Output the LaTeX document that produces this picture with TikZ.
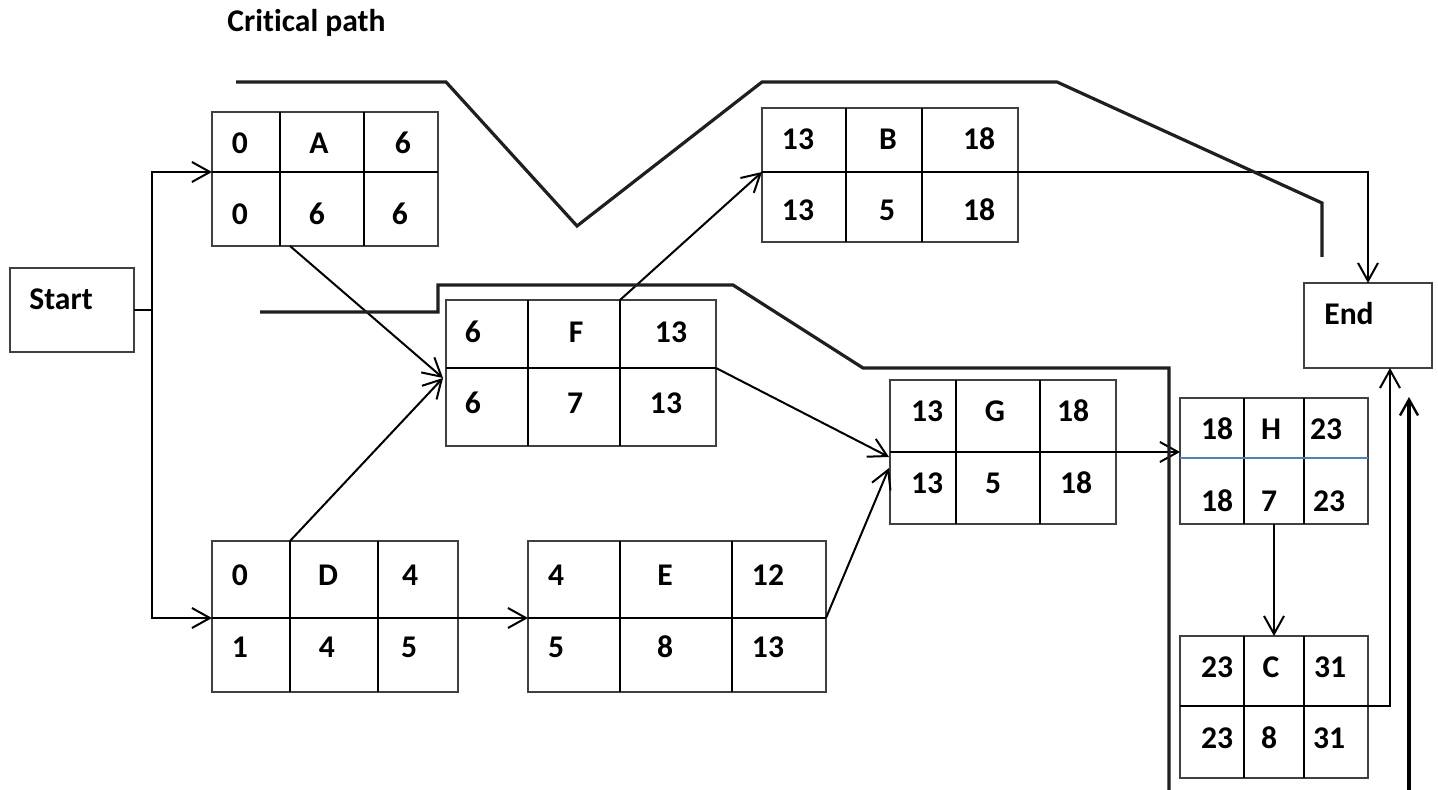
\documentclass[tikz,border=0pt]{standalone}
\usepackage{fontspec}
\setmainfont[Ligatures=NoCommon]{Carlito}
\usetikzlibrary{arrows.meta}

% activity box: name, x1, y1, x2, y2, first divider x, second divider x
\newcommand\actbox[7]{%
  \node[frame, minimum width={(#4-#2)*0.5pt}, minimum height={(#5-#3)*0.5pt}]
    (#1) at ({(#2+#4)/2},{(#3+#5)/2}) {};
  \draw[div] (#6,#3) -- (#6,#5) (#7,#3) -- (#7,#5);}

\begin{document}
\begin{tikzpicture}[x=0.5pt,y=-0.5pt,
  frame/.style={draw=black!75, line width=0.8pt, inner sep=0pt, outer sep=0pt},
  div/.style={draw=black, line width=0.85pt},
  lbl/.style={font=\bfseries\fontsize{15.8}{18}\selectfont, inner sep=0pt},
  link/.style={line width=1pt},
  conn/.style={line width=1pt, -{Straight Barb[length=9pt,width=10pt,line width=1pt]}},
  crit/.style={line width=1.6pt, draw=black!88, line join=miter},
  critarrow/.style={line width=1.6pt, -{Straight Barb[length=8pt,width=9pt,line width=1.2pt]}}]
\useasboundingbox (0,0) rectangle (1438,790);

\node[lbl, anchor=base west] (title) at (227,32) {Critical path};

% start and end events
\node[frame, minimum width=62pt, minimum height=42pt] (Start) at (72,310) {};
\node[lbl] (StartT) at (61,299) {Start};
\node[frame, minimum width=64pt, minimum height=42.5pt] (End) at (1368,325.5) {};
\node[lbl] (EndT) at (1349,314) {End};

% activity boxes
\actbox{A}{212}{112}{438}{246}{280}{364}
\draw[div] (212,172) -- (438,172);
\node[lbl] (A1) at (240,143) {0};
\node[lbl] (A2) at (319,143) {A};
\node[lbl] (A3) at (403,143) {6};
\node[lbl] (A4) at (240,214) {0};
\node[lbl] (A5) at (317,214) {6};
\node[lbl] (A6) at (400,214) {6};

\actbox{B}{762}{108}{1018}{242}{846}{922}
\draw[div] (762,172) -- (1018,172);
\node[lbl] (B1) at (798,139) {13};
\node[lbl] (B2) at (888,139) {B};
\node[lbl] (B3) at (979,139) {18};
\node[lbl] (B4) at (798,210) {13};
\node[lbl] (B5) at (887,210) {5};
\node[lbl] (B6) at (979,210) {18};

\actbox{F}{446}{300}{716}{446}{528}{620}
\draw[div] (446,368) -- (716,368);
\node[lbl] (F1) at (473,332) {6};
\node[lbl] (F2) at (576,332) {F};
\node[lbl] (F3) at (671,332) {13};
\node[lbl] (F4) at (473,403) {6};
\node[lbl] (F5) at (575,403) {7};
\node[lbl] (F6) at (666,403) {13};

\actbox{D}{212}{541}{458}{692}{290}{378}
\draw[div] (212,618) -- (458,618);
\node[lbl] (D1) at (240,575) {0};
\node[lbl] (D2) at (328,575) {D};
\node[lbl] (D3) at (410,575) {4};
\node[lbl] (D4) at (240,647) {1};
\node[lbl] (D5) at (327,647) {4};
\node[lbl] (D6) at (409,647) {5};

\actbox{E}{528}{541}{826}{692}{620}{732}
\draw[div] (528,618) -- (826,618);
\node[lbl] (E1) at (556,575) {4};
\node[lbl] (E2) at (665,575) {E};
\node[lbl] (E3) at (768,575) {12};
\node[lbl] (E4) at (556,647) {5};
\node[lbl] (E5) at (665,647) {8};
\node[lbl] (E6) at (768,647) {13};

\actbox{G}{890}{380}{1116}{524}{956}{1040}
\draw[div] (890,452) -- (1116,452);
\node[lbl] (G1) at (927,411) {13};
\node[lbl] (G2) at (995,411) {G};
\node[lbl] (G3) at (1073,411) {18};
\node[lbl] (G4) at (927,483) {13};
\node[lbl] (G5) at (993,483) {5};
\node[lbl] (G6) at (1076,483) {18};

\actbox{H}{1180}{398}{1368}{524}{1244}{1304}
\draw[line width=0.8pt, draw={rgb,255:red,79;green,129;blue,189}] (1180,458) -- (1368,458);
\node[lbl] (H1) at (1217,429) {18};
\node[lbl] (H2) at (1271,429) {H};
\node[lbl] (H3) at (1326,429) {23};
\node[lbl] (H4) at (1217,501) {18};
\node[lbl] (H5) at (1269,501) {7};
\node[lbl] (H6) at (1329,501) {23};

\actbox{C}{1180}{636}{1368}{778}{1244}{1304}
\draw[div] (1180,706) -- (1368,706);
\node[lbl] (C1) at (1217,667) {23};
\node[lbl] (C2) at (1271,667) {C};
\node[lbl] (C3) at (1330,667) {31};
\node[lbl] (C4) at (1217,738) {23};
\node[lbl] (C5) at (1269,738) {8};
\node[lbl] (C6) at (1329,738) {31};

% connection points on the boxes
\coordinate (split) at (152,310);
\coordinate (Ain) at (A.west |- 0,172);
\coordinate (Aout) at (290,246);
\coordinate (Din) at (D.west |- 0,618);
\coordinate (Dout) at (D.east |- 0,618);
\coordinate (Dtop) at (290,541);
\coordinate (Ein) at (E.west |- 0,618);
\coordinate (Eout) at (E.east |- 0,618);
\coordinate (Fin) at (443,378);
\coordinate (Fout) at (F.east |- 0,368);
\coordinate (Ftop) at (620,300);
\coordinate (Bin) at (B.west |- 0,172);
\coordinate (Bout) at (B.east |- 0,172);
\coordinate (Gin1) at (889,457);
\coordinate (Gin2) at (889,468);
\coordinate (Gout) at (G.east |- 0,452);
\coordinate (Hin) at (H.west |- 0,452);
\coordinate (Cout) at (C.east |- 0,706);
\coordinate (Ein2) at (1390,368);

% connectors
\draw[link] (Start.east) -- (split);
\draw[conn] (split) |- (Ain);
\draw[conn] (split) |- (Din);
\draw[conn] (Aout) -- (Fin);
\draw[conn] (Dtop) -- (Fin);
\draw[conn] (Dout) -- (Ein);
\draw[conn] (Ftop) -- (Bin);
\draw[conn] (Fout) -- (Gin1);
\draw[conn] (Eout) -- (Gin2);
\draw[conn] (Gout) -- (Hin);
\draw[conn] (H.south) -- (C.north);
\draw[conn] (Bout) -| (End.north);
\draw[conn] (Cout) -| (Ein2);

% critical path trace
\draw[crit] (236,82) -- (446,82) -- (577,226) -- (762,82) -- (1057,82)
  -- (1322,203) -- (1322,257);
\draw[crit] (260,312) -- (438,312) -- (438,285) -- (733,285) -- (863,368)
  -- (1169,368) -- (1169,790);
\draw[critarrow] (1409,790) -- (1409,397);
\end{tikzpicture}
\end{document}
